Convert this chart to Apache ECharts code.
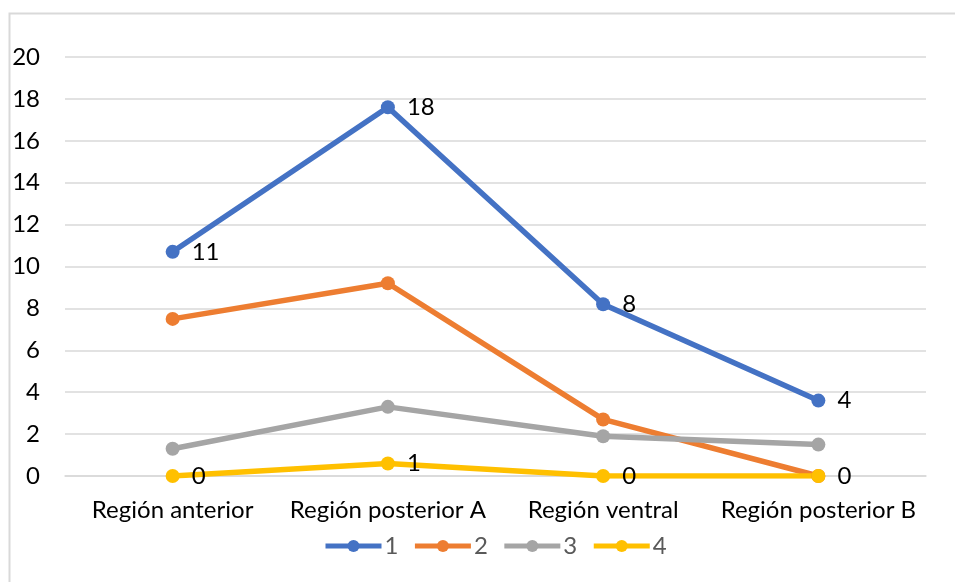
<!DOCTYPE html>
<html>
<head>
<meta charset="utf-8">
<script src="https://cdn.jsdelivr.net/npm/echarts@6/dist/echarts.min.js"></script>
<style>
  html, body { margin: 0; padding: 0; background: #ffffff; }
  #chart { width: 955px; height: 582px; }
</style>
</head>
<body>
<div id="chart"></div>
<script>
// Categories along the horizontal axis
var categories = ['Región anterior', 'Región posterior A', 'Región ventral', 'Región posterior B'];

// Series values
var seriesNames = ['1', '2', '3', '4'];
var values1 = [10.7, 17.6, 8.2, 3.6];
var values2 = [7.5, 9.2, 2.7, 0];
var values3 = [1.3, 3.3, 1.9, 1.5];
var values4 = [0, 0.6, 0, 0];

// Vertical axis range
var yMin = 0;
var yMax = 20;
var yStep = 2;

var colors = ['#4472C4', '#ED7D31', '#A5A5A5', '#FFC000'];
var fontFamily = 'Lato, "Open Sans", sans-serif';
var fontSize = 24;

function lineSeries(name, data, color, showLabel) {
  return {
    name: name,
    type: 'line',
    data: data,
    symbol: 'circle',
    symbolSize: 14,
    lineStyle: { width: 5.5, color: color },
    itemStyle: { color: color },
    label: {
      show: showLabel,
      position: 'right',
      distance: 12,
      color: '#000000',
      fontSize: fontSize,
      fontFamily: fontFamily,
      formatter: function (p) { return Math.round(p.value); }
    },
    emphasis: { disabled: true },
    animation: false
  };
}

var chart = echarts.init(document.getElementById('chart'), null, { renderer: 'canvas' });
chart.setOption({
  backgroundColor: '#ffffff',
  textStyle: { fontFamily: fontFamily },
  graphic: [{
    type: 'rect',
    left: 7,
    top: 11,
    shape: { width: 1000, height: 700 },
    style: { fill: 'none', stroke: '#d9d9d9', lineWidth: 2 },
    silent: true
  }],
  grid: { left: 65, right: 29, top: 57, bottom: 106, containLabel: false },
  legend: {
    bottom: 19,
    left: 318,
    itemWidth: 56,
    itemHeight: 15,
    itemGap: 14,
    lineStyle: { width: 5 },
    textStyle: { color: '#595959', fontSize: fontSize, fontFamily: fontFamily, padding: [0, 0, 0, -2] },
    data: seriesNames
  },
  xAxis: {
    type: 'category',
    data: categories,
    boundaryGap: true,
    axisLine: { show: true, lineStyle: { color: '#d9d9d9', width: 1.5 } },
    axisTick: { show: false },
    axisLabel: { color: '#000000', fontSize: fontSize, fontFamily: fontFamily, margin: 22, interval: 0 }
  },
  yAxis: {
    type: 'value',
    min: yMin,
    max: yMax,
    interval: yStep,
    axisLine: { show: false },
    axisTick: { show: false },
    splitLine: { lineStyle: { color: '#d9d9d9', width: 1.5 } },
    axisLabel: { color: '#000000', fontSize: fontSize, fontFamily: fontFamily, margin: 25 }
  },
  series: [
    lineSeries(seriesNames[0], values1, colors[0], true),
    lineSeries(seriesNames[1], values2, colors[1], false),
    lineSeries(seriesNames[2], values3, colors[2], false),
    lineSeries(seriesNames[3], values4, colors[3], true)
  ]
});
</script>
</body>
</html>
